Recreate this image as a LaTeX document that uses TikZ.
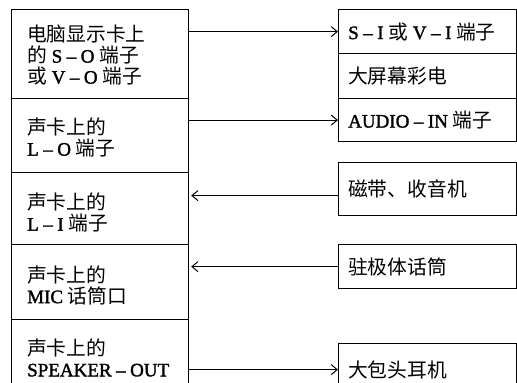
\documentclass[tikz,border=0pt]{standalone}
\usepackage{fontspec}
\setmainfont{Liberation Serif}[FakeBold=1.6]
\newfontfamily\cjk{Noto Sans CJK SC}[Scale=1.04]
\newcommand\dd{\hspace{4.5pt}–\hspace{4.5pt}}
\usetikzlibrary{arrows.meta}
\tikzset{
  box/.style={draw, line width=1.2pt, anchor=north west, inner sep=0pt},
  lbox/.style={box, minimum width=177pt},
  rbox/.style={box, minimum width=178pt},
  txt/.style={anchor=west, align=left, inner sep=0pt,
    font=\fontsize{19}{21}\selectfont},
  arr/.style={line width=0.9pt, -{Straight Barb[length=6pt,width=10pt,line width=1pt]}}
}
\begin{document}
\begin{tikzpicture}[x=1pt,y=1pt]
\useasboundingbox (0,0) rectangle (517,-383);
\clip (0,0) rectangle (517,-383);
% left column
\node[lbox, minimum height=89pt] (l1) at (11,-9) {};
\node[lbox, minimum height=74pt] (l2) at (11,-98) {};
\node[lbox, minimum height=72pt] (l3) at (11,-172) {};
\node[lbox, minimum height=75pt] (l4) at (11,-244) {};
\node[lbox, minimum height=76pt] (l5) at (11,-319) {};
\node[txt] (t1) at ([xshift=16pt,yshift=-1pt]l1.west) {{\cjk 电脑显示卡上}\\{\cjk 的} S\dd O {\cjk 端子}\\{\cjk 或} V\dd O {\cjk 端子}};
\node[txt] (t2) at ([xshift=16pt,yshift=-2pt]l2.west) {{\cjk 声卡上的}\\L\dd O {\cjk 端子}};
\node[txt] (t3) at ([xshift=16pt,yshift=-4pt]l3.west) {{\cjk 声卡上的}\\L\dd I {\cjk 端子}};
\node[txt] (t4) at ([xshift=16pt,yshift=-3pt]l4.west) {{\cjk 声卡上的}\\MIC {\cjk 话筒口}};
\node[txt] (t5) at ([xshift=16pt]l5.west) {{\cjk 声卡上的}\\SPEAKER\dd OUT};
% right column
\node[rbox, minimum height=44pt] (r1) at (338,-9) {};
\node[rbox, minimum height=45pt] (r2) at (338,-53) {};
\node[rbox, minimum height=43pt] (r3) at (338,-98) {};
\node[rbox, minimum height=53pt] (r4) at (338,-162) {};
\node[rbox, minimum height=44pt] (r5) at (338,-244) {};
\node[rbox, minimum height=52pt] (r6) at (338,-343) {};
\node[txt] (s1) at ([xshift=10pt]r1.west) {S\dd I {\cjk 或} V\dd I {\cjk 端子}};
\node[txt] (s2) at ([xshift=10pt]r2.west) {\cjk 大屏幕彩电};
\node[txt] (s3) at ([xshift=10pt]r3.west) {AUDIO\dd IN {\cjk 端子}};
\node[txt] (s4) at ([xshift=10pt]r4.west) {\cjk 磁带、收音机};
\node[txt] (s5) at ([xshift=10pt]r5.west) {\cjk 驻极体话筒};
\node[txt] (s6) at ([xshift=10pt]r6.west) {\cjk 大包头耳机};
% connectors
\draw[arr] (l1.east |- r1.west) -- (r1.west);
\draw[arr] (l2.east |- r3.west) -- (r3.west);
\coordinate (c3) at ([yshift=-6.5pt]r4.west);
\draw[arr] (c3) -- ([xshift=2pt]l3.east |- c3);
\draw[arr] (r5.west) -- ([xshift=2pt]l4.east |- r5.west);
\draw[arr] (l5.east |- r6.west) -- (r6.west);
\end{tikzpicture}
\end{document}
